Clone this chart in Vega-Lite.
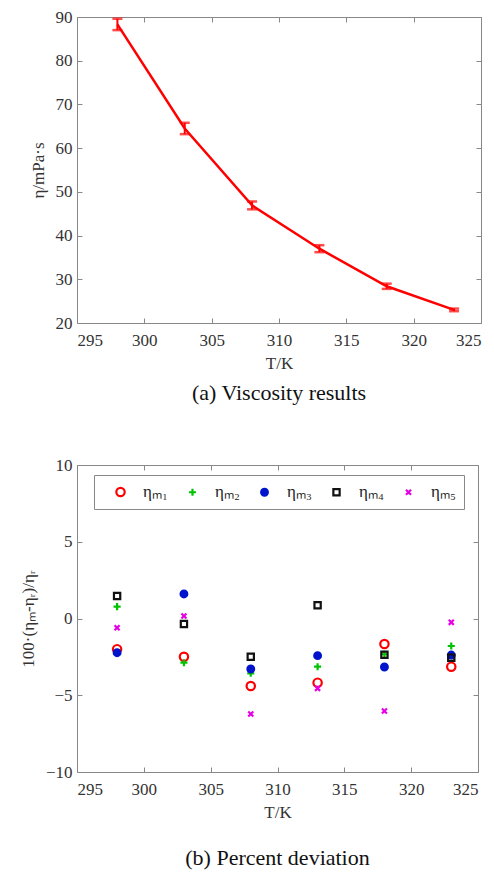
{
  "$schema": "https://vega.github.io/schema/vega-lite/v6.json",
  "padding": {"top": 7, "left": 18, "right": 5, "bottom": 2},
  "spacing": 50,
  "resolve": {"legend": {"shape": "independent", "stroke": "independent", "fill": "independent"}},
  "config": {
    "font": "Times New Roman",
    "view": {"stroke": "#888", "strokeWidth": 1},
    "axis": {
      "domain": false, "grid": false, "tickColor": "#888", "tickSize": -5,
      "labelFont": "Times New Roman", "labelFontSize": 17, "labelColor": "#333",
      "titleFont": "Times New Roman", "titleFontSize": 17, "titleFontWeight": "normal", "titleColor": "#333"
    },
    "axisX": {"labelPadding": 14, "titlePadding": 7},
    "axisY": {"labelPadding": 10, "titlePadding": 8},
    "title": {"font": "Times New Roman", "fontSize": 22, "fontWeight": "normal", "color": "#111"},
    "legend": {
      "labelFont": "Times New Roman", "labelFontSize": 17, "labelColor": "#222"
    }
  },
  "vconcat": [
    {
      "width": 404, "height": 306,
      "title": {"text": "(a) Viscosity results", "orient": "bottom", "offset": 12},
      "data": {"values": [
        {"T": 298, "eta": 88.3, "lo": 87.0, "hi": 89.6},
        {"T": 303, "eta": 64.5, "lo": 63.2, "hi": 65.8},
        {"T": 308, "eta": 46.9, "lo": 46.0, "hi": 47.8},
        {"T": 313, "eta": 37.0, "lo": 36.2, "hi": 37.8},
        {"T": 318, "eta": 28.4, "lo": 27.8, "hi": 29.0},
        {"T": 323, "eta": 23.0, "lo": 22.7, "hi": 23.3}
      ]},
      "layer": [
        {
          "mark": {"type": "line", "color": "#ff0000", "strokeWidth": 2.5},
          "encoding": {
            "x": {"field": "T", "type": "quantitative", "scale": {"domain": [295, 325], "nice": false, "zero": false},
                  "axis": {"values": [295, 300, 305, 310, 315, 320, 325], "format": "d", "title": "T/K"}},
            "y": {"field": "eta", "type": "quantitative", "scale": {"domain": [20, 90], "nice": false, "zero": false},
                  "axis": {"values": [20, 30, 40, 50, 60, 70, 80, 90], "title": "η/mPa·s"}}
          }
        },
        {
          "mark": {"type": "rule", "color": "#ff0000", "strokeWidth": 2},
          "encoding": {
            "x": {"field": "T", "type": "quantitative", "axis": null},
            "y": {"field": "lo", "type": "quantitative", "axis": null},
            "y2": {"field": "hi"}
          }
        },
        {
          "mark": {"type": "tick", "color": "#ff0000", "thickness": 2.5, "size": 10, "orient": "horizontal"},
          "encoding": {
            "x": {"field": "T", "type": "quantitative", "axis": null},
            "y": {"field": "lo", "type": "quantitative", "axis": null}
          }
        },
        {
          "mark": {"type": "tick", "color": "#ff0000", "thickness": 2.5, "size": 10, "orient": "horizontal"},
          "encoding": {
            "x": {"field": "T", "type": "quantitative", "axis": null},
            "y": {"field": "hi", "type": "quantitative", "axis": null}
          }
        },
        {
          "mark": {"type": "point", "opacity": 0},
          "encoding": {
            "x": {"field": "T", "type": "quantitative", "axis": {"orient": "top", "labels": false, "title": null, "values": [295, 300, 305, 310, 315, 320, 325]}},
            "y": {"field": "eta", "type": "quantitative", "axis": {"orient": "right", "labels": false, "title": null, "values": [20, 30, 40, 50, 60, 70, 80, 90]}}
          }
        }
      ],
      "resolve": {"axis": {"x": "independent", "y": "independent"}}
    },
    {
      "width": 401, "height": 307,
      "title": {"text": "(b) Percent deviation", "orient": "bottom", "offset": 28},
      "data": {"values": [
        {"T": 298, "series": "ηₘ₁", "dev": -2.0},
        {"T": 303, "series": "ηₘ₁", "dev": -2.49},
        {"T": 308, "series": "ηₘ₁", "dev": -4.4},
        {"T": 313, "series": "ηₘ₁", "dev": -4.18},
        {"T": 318, "series": "ηₘ₁", "dev": -1.66},
        {"T": 323, "series": "ηₘ₁", "dev": -3.14},
        {"T": 298, "series": "ηₘ₂", "dev": 0.77},
        {"T": 303, "series": "ηₘ₂", "dev": -2.88},
        {"T": 308, "series": "ηₘ₂", "dev": -3.57},
        {"T": 313, "series": "ηₘ₂", "dev": -3.14},
        {"T": 318, "series": "ηₘ₂", "dev": -2.33},
        {"T": 323, "series": "ηₘ₂", "dev": -1.79},
        {"T": 298, "series": "ηₘ₃", "dev": -2.23},
        {"T": 303, "series": "ηₘ₃", "dev": 1.6},
        {"T": 308, "series": "ηₘ₃", "dev": -3.29},
        {"T": 313, "series": "ηₘ₃", "dev": -2.42},
        {"T": 318, "series": "ηₘ₃", "dev": -3.16},
        {"T": 323, "series": "ηₘ₃", "dev": -2.38},
        {"T": 298, "series": "ηₘ₄", "dev": 1.47},
        {"T": 303, "series": "ηₘ₄", "dev": -0.36},
        {"T": 308, "series": "ηₘ₄", "dev": -2.49},
        {"T": 313, "series": "ηₘ₄", "dev": 0.86},
        {"T": 318, "series": "ηₘ₄", "dev": -2.36},
        {"T": 323, "series": "ηₘ₄", "dev": -2.55},
        {"T": 298, "series": "ηₘ₅", "dev": -0.6},
        {"T": 303, "series": "ηₘ₅", "dev": 0.16},
        {"T": 308, "series": "ηₘ₅", "dev": -6.22},
        {"T": 313, "series": "ηₘ₅", "dev": -4.55},
        {"T": 318, "series": "ηₘ₅", "dev": -6.03},
        {"T": 323, "series": "ηₘ₅", "dev": -0.25}
      ]},
      "layer": [
        {
          "mark": {"type": "point", "strokeWidth": 2.2, "opacity": 1, "size": 70},
          "encoding": {
            "x": {"field": "T", "type": "quantitative", "scale": {"domain": [295, 325], "nice": false, "zero": false},
                  "axis": {"values": [295, 300, 305, 310, 315, 320, 325], "format": "d", "title": "T/K"}},
            "y": {"field": "dev", "type": "quantitative", "scale": {"domain": [-10, 10], "nice": false, "zero": false},
                  "axis": {"values": [-10, -5, 0, 5, 10], "title": "100·(ηₘ-ηᵣ)/ηᵣ"}},
            "shape": {"field": "series", "type": "nominal",
                      "scale": {"domain": ["ηₘ₁", "ηₘ₂", "ηₘ₃", "ηₘ₄", "ηₘ₅"],
                                "range": ["circle", "M-0.85,0H0.85M0,-0.85V0.85", "M-0.8,0A0.8,0.8 0 1,0 0.8,0A0.8,0.8 0 1,0 -0.8,0Z", "M-0.75,-0.75H0.75V0.75H-0.75Z", "M-0.6,-0.6L0.6,0.6M-0.6,0.6L0.6,-0.6"]},
                      "legend": {"orient": "none", "legendX": 17, "legendY": 10, "direction": "horizontal", "title": null,
                                 "strokeColor": "#888", "fillColor": "#fff", "padding": 8, "symbolSize": 70, "symbolStrokeWidth": 2.2,
                                 "columnPadding": 6, "labelOffset": 14, "symbolOffset": 10, "columns": 5}},
            "stroke": {"field": "series", "type": "nominal",
                       "scale": {"domain": ["ηₘ₁", "ηₘ₂", "ηₘ₃", "ηₘ₄", "ηₘ₅"], "range": ["#ff0000", "#00c400", "#0014cc", "#111111", "#e600e6"]}},
            "fill": {"field": "series", "type": "nominal",
                     "scale": {"domain": ["ηₘ₁", "ηₘ₂", "ηₘ₃", "ηₘ₄", "ηₘ₅"], "range": ["transparent", "#00c400", "#0014cc", "transparent", "#e600e6"]}}
          }
        },
        {
          "mark": {"type": "point", "opacity": 0},
          "encoding": {
            "x": {"field": "T", "type": "quantitative", "axis": {"orient": "top", "labels": false, "title": null, "values": [295, 300, 305, 310, 315, 320, 325]}},
            "y": {"field": "dev", "type": "quantitative", "axis": {"orient": "right", "labels": false, "title": null, "values": [-10, -5, 0, 5, 10]}}
          }
        }
      ],
      "resolve": {"axis": {"x": "independent", "y": "independent"}}
    }
  ]
}
